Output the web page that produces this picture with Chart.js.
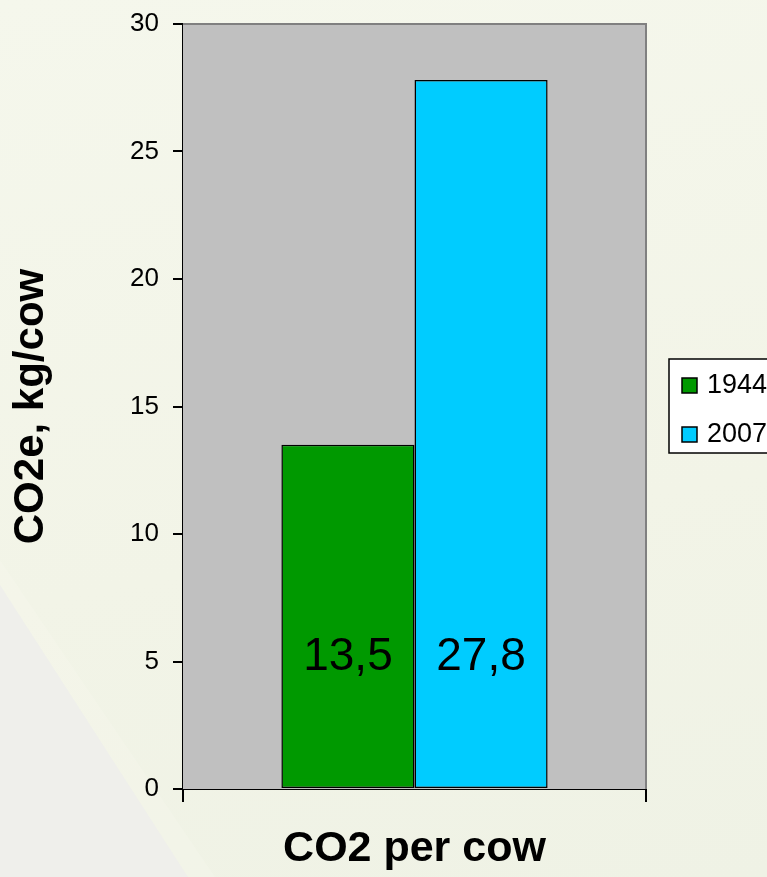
<!DOCTYPE html>
<html>
<head>
<meta charset="utf-8">
<script src="https://cdn.jsdelivr.net/npm/chart.js@4.4.1/dist/chart.umd.min.js"></script>
<style>
  html, body { margin: 0; padding: 0; }
  body {
    width: 767px; height: 877px; overflow: hidden; position: relative;
    background: linear-gradient(170deg, #f5f7ec 0%, #f2f4e7 60%, #eff2e5 100%);
  }
  .wedge {
    position: absolute; left: 0; top: 0; width: 767px; height: 877px;
    background: #efefeb;
    clip-path: polygon(0 585px, 188px 877px, 0 877px);
  }
  .wedge2 {
    position: absolute; left: 0; top: 0; width: 767px; height: 877px;
    background: rgba(255,255,250,0.15);
    clip-path: polygon(0 560px, 0 585px, 188px 877px, 215px 877px);
  }
  #wrap { position: absolute; left: 0; top: 0; width: 767px; height: 877px; }
</style>
</head>
<body>
<div class="wedge"></div>
<div class="wedge2"></div>
<div id="wrap"><canvas id="chart"></canvas></div>
<script>
  const categories = ["CO2 per cow"];
  const seriesNames = ["1944", "2007"];
  const values1944 = [13.5];
  const values2007 = [27.8];
  const seriesColors = ["#009900", "#00ccff"];
  const yTicks = [0, 5, 10, 15, 20, 25, 30];
  const labelLevel = 5.15;

  const FONT = "'Liberation Sans', Arial, sans-serif";

  // grey plot area with grey top/right frame
  const plotBackground = {
    id: 'plotBackground',
    beforeDatasetsDraw(chart) {
      const { ctx, chartArea: a } = chart;
      ctx.save();
      ctx.fillStyle = '#c0c0c0';
      ctx.fillRect(a.left, a.top, a.right - a.left, a.bottom - a.top);
      ctx.strokeStyle = '#808080';
      ctx.lineWidth = 2;
      ctx.beginPath();
      ctx.moveTo(a.left, a.top);
      ctx.lineTo(a.right, a.top);
      ctx.lineTo(a.right, a.bottom);
      ctx.stroke();
      ctx.restore();
    }
  };

  // value labels, comma decimal
  const valueLabels = {
    id: 'valueLabels',
    afterDatasetsDraw(chart) {
      const { ctx } = chart;
      const y = chart.scales.y.getPixelForValue(labelLevel);
      ctx.save();
      ctx.font = '46px ' + FONT;
      ctx.fillStyle = '#000';
      ctx.textAlign = 'center';
      ctx.textBaseline = 'middle';
      chart.data.datasets.forEach((ds, i) => {
        chart.getDatasetMeta(i).data.forEach((bar, j) => {
          const txt = ds.data[j].toFixed(1).replace('.', ',');
          ctx.fillText(txt, bar.x, y);
        });
      });
      ctx.restore();
    }
  };

  // boxed legend to the right of the plot
  const boxLegend = {
    id: 'boxLegend',
    afterDraw(chart) {
      const { ctx } = chart;
      const left = 669, top = 359, bottom = 453;
      ctx.save();
      ctx.fillStyle = '#ffffff';
      ctx.fillRect(left, top, 120, bottom - top);
      ctx.strokeStyle = '#000';
      ctx.lineWidth = 1.5;
      ctx.strokeRect(left, top, 120, bottom - top);
      ctx.font = '27px ' + FONT;
      ctx.textBaseline = 'middle';
      chart.data.datasets.forEach((ds, i) => {
        const cy = 385 + i * 49;
        ctx.fillStyle = ds.backgroundColor;
        ctx.fillRect(682, cy - 7, 15, 15);
        ctx.lineWidth = 1.5;
        ctx.strokeRect(682, cy - 7, 15, 15);
        ctx.fillStyle = '#000';
        ctx.fillText(ds.label, 707, cy + 1);
      });
      ctx.restore();
    }
  };

  new Chart(document.getElementById('chart'), {
    type: 'bar',
    data: {
      labels: categories,
      datasets: [
        {
          label: seriesNames[0],
          data: values1944,
          backgroundColor: seriesColors[0],
          borderColor: '#000',
          borderWidth: 1.5,
          borderSkipped: false
        },
        {
          label: seriesNames[1],
          data: values2007,
          backgroundColor: seriesColors[1],
          borderColor: '#000',
          borderWidth: 1.5,
          borderSkipped: false
        }
      ]
    },
    options: {
      responsive: true,
      maintainAspectRatio: false,
      animation: false,
      layout: { padding: { left: 0, top: 24, right: 121, bottom: 0 } },
      datasets: { bar: { barPercentage: 1.0, categoryPercentage: 0.575 } },
      plugins: {
        legend: { display: false },
        tooltip: { enabled: false }
      },
      scales: {
        x: {
          offset: true,
          grid: {
            offset: true,
            drawOnChartArea: false,
            drawTicks: true,
            tickLength: 13,
            color: '#000',
            lineWidth: 2
          },
          border: { display: true, color: '#000', width: 2 },
          ticks: { display: false },
          title: {
            display: true,
            text: categories[0],
            color: '#000',
            font: { family: FONT, size: 43, weight: 'bold' },
            padding: { top: 0, bottom: 2 }
          },
          afterFit(scale) { scale.height = 88; }
        },
        y: {
          min: 0,
          max: 30,
          afterBuildTicks(scale) { scale.ticks = yTicks.map(v => ({ value: v })); },
          grid: {
            drawOnChartArea: false,
            drawTicks: true,
            tickLength: 10,
            color: '#000',
            lineWidth: 2
          },
          border: { display: true, color: '#000', width: 2 },
          ticks: {
            color: '#000',
            padding: 14,
            font: { family: FONT, size: 26, lineHeight: 0.8 }
          },
          title: {
            display: true,
            text: 'CO2e, kg/cow',
            color: '#000',
            font: { family: FONT, size: 42, weight: 'bold' },
            padding: { top: 6, bottom: 6 }
          },
          afterFit(scale) {
            scale.width = 183;
            scale.paddingTop = 0;
            scale.paddingBottom = 0;
          }
        }
      }
    },
    plugins: [plotBackground, valueLabels, boxLegend]
  });
</script>
</body>
</html>
